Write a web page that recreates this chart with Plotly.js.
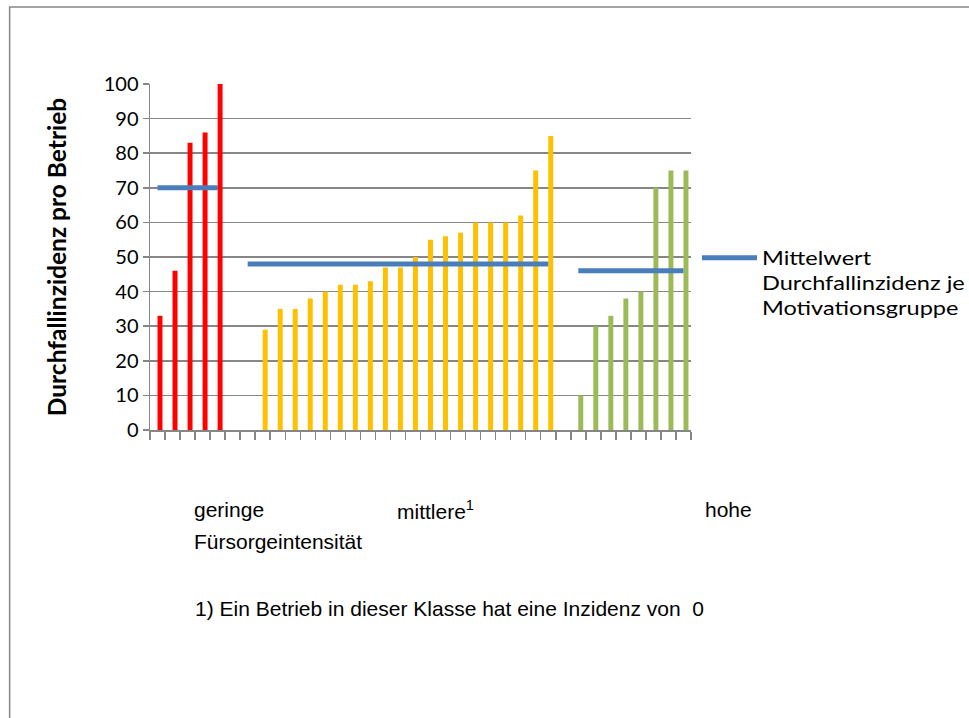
<!DOCTYPE html>
<html>
<head>
<meta charset="utf-8">
<script src="https://cdn.plot.ly/plotly-3.0.1.min.js"></script>
<style>
html, body { margin: 0; padding: 0; background: #ffffff; }
#chart { width: 969px; height: 718px; }
/* the reference legend text is drawn horizontally stretched */
#chart .legendtext { transform-box: fill-box; transform-origin: 0 0; transform: scaleX(1.24); }
#chart .legend .scrollbox { clip-path: none !important; }
</style>
</head>
<body>
<div id="chart"></div>
<script>
// ---- data ----
const geringeIds  = ['G1', 'G2', 'G3', 'G4', 'G5'];
const mittlereIds = ['M1', 'M2', 'M3', 'M4', 'M5', 'M6', 'M7', 'M8', 'M9', 'M10', 'M11',
                     'M12', 'M13', 'M14', 'M15', 'M16', 'M17', 'M18', 'M19', 'M20', 'M21'];
const hoheIds     = ['H1', 'H2', 'H3', 'H4', 'H5', 'H6', 'H7', 'H8'];
const gapIds      = ['L1', 'L2'];

const geringeValues  = [33, 46, 83, 86, 100];
const mittlereValues = [0, 29, 35, 35, 38, 40, 42, 42, 43, 47, 47, 50, 55, 56, 57, 60, 60, 60, 62, 75, 85];
const hoheValues     = [10, 30, 33, 38, 40, 70, 75, 75];
const groupMeans     = [70, 48, 46];   // Mittelwert je Motivationsgruppe

const yTickValues = [0, 10, 20, 30, 40, 50, 60, 70, 80, 90, 100];
const groupLabels = ['geringe', 'mittlere<sup>1</sup>', 'hohe'];
const axisLabelX  = 'Fürsorgeintensität';
const footnote    = '1) Ein Betrieb in dieser Klasse hat eine Inzidenz von  0';
const yTitle      = 'Durchfallinzidenz pro Betrieb';
const meanName    = 'Mittelwert<br>Durchfallinzidenz je<br>Motivationsgruppe';

// ---- build ----
const categories = [...geringeIds, gapIds[0], ...mittlereIds, gapIds[1], ...hoheIds];
const meanX = categories.slice();
const meanY = [
  ...geringeIds.map(() => groupMeans[0]), null,
  ...mittlereIds.map(() => groupMeans[1]), null,
  ...hoheIds.map(() => groupMeans[2])
];

// plot-area pixel geometry helpers (for text placement only)
const L = 149.5, R = 691, T = 84, B = 430;
const px2x = p => (p - L) / (R - L);
const py2y = p => (B - p) / (B - T);

const barCommon = { type: 'bar', width: 0.33, offset: 0, showlegend: false, hoverinfo: 'x+y' };

const traces = [
  Object.assign({ x: geringeIds,  y: geringeValues,  marker: { color: '#FF0000' }, name: 'geringe' }, barCommon),
  Object.assign({ x: mittlereIds, y: mittlereValues, marker: { color: '#FFC000' }, name: 'mittlere' }, barCommon),
  Object.assign({ x: hoheIds,     y: hoheValues,     marker: { color: '#9BBB59' }, name: 'hohe' }, barCommon),
  {
    type: 'scatter', mode: 'lines', x: meanX, y: meanY, connectgaps: false,
    name: meanName, line: { color: '#4A7EBB', width: 5 }, showlegend: true
  }
];

const chartFont = 'Lato, "Open Sans", sans-serif';
const arial = 'Arial, "Liberation Sans", sans-serif';

const layout = {
  width: 969, height: 718,
  paper_bgcolor: '#ffffff', plot_bgcolor: '#ffffff',
  margin: { l: L, r: 969 - R, t: T, b: 718 - B, pad: 0 },
  barmode: 'overlay',
  showlegend: true,
  font: { family: chartFont, color: '#000000' },
  xaxis: {
    type: 'category', categoryorder: 'array', categoryarray: categories,
    range: [-0.5, categories.length - 0.5],
    tickson: 'boundaries', ticks: 'outside', ticklen: 8, tickwidth: 1.5, tickcolor: '#868686',
    showticklabels: false, showgrid: false, zeroline: false,
    showline: true, linecolor: '#868686', linewidth: 1.5, fixedrange: true
  },
  yaxis: {
    range: [0, 100], tickmode: 'array', tickvals: yTickValues,
    ticks: 'outside', ticklen: 6, tickwidth: 1.5, tickcolor: '#868686',
    showgrid: true, gridcolor: '#868686', gridwidth: 1.5, zeroline: false,
    showline: true, linecolor: '#868686', linewidth: 1.5,
    tickfont: { family: chartFont, size: 20, color: '#000000' },
    ticklabelstandoff: 0,
    title: { text: '<b>' + yTitle + '</b>', font: { family: chartFont, size: 24.5, color: '#000000' }, standoff: 30 },
    fixedrange: true
  },
  legend: {
    x: px2x(697), y: py2y(239), xanchor: 'left', yanchor: 'top',
    font: { family: chartFont, size: 19, color: '#000000' },
    bgcolor: 'rgba(0,0,0,0)', borderwidth: 0, itemwidth: 55, valign: 'top',
    itemclick: false, itemdoubleclick: false
  },
  shapes: [
    { type: 'rect', xref: 'paper', yref: 'paper',
      x0: px2x(9), x1: px2x(1100), y0: py2y(800), y1: py2y(7),
      line: { color: '#868686', width: 1.5 }, fillcolor: 'rgba(0,0,0,0)', layer: 'below' }
  ],
  annotations: [
    { text: groupLabels[0], xref: 'paper', yref: 'paper', x: px2x(192), y: py2y(510), xanchor: 'left', yanchor: 'middle', showarrow: false, font: { family: arial, size: 21, color: '#000' } },
    { text: groupLabels[1], xref: 'paper', yref: 'paper', x: px2x(395), y: py2y(510), xanchor: 'left', yanchor: 'middle', showarrow: false, font: { family: arial, size: 21, color: '#000' } },
    { text: groupLabels[2], xref: 'paper', yref: 'paper', x: px2x(703), y: py2y(510), xanchor: 'left', yanchor: 'middle', showarrow: false, font: { family: arial, size: 21, color: '#000' } },
    { text: axisLabelX, xref: 'paper', yref: 'paper', x: px2x(192), y: py2y(541), xanchor: 'left', yanchor: 'middle', showarrow: false, font: { family: arial, size: 21, color: '#000' } },
    { text: footnote, xref: 'paper', yref: 'paper', x: px2x(193), y: py2y(608), xanchor: 'left', yanchor: 'middle', showarrow: false, font: { family: arial, size: 21, color: '#000' } }
  ]
};

Plotly.newPlot('chart', traces, layout, { displayModeBar: false, staticPlot: true });
</script>
</body>
</html>
